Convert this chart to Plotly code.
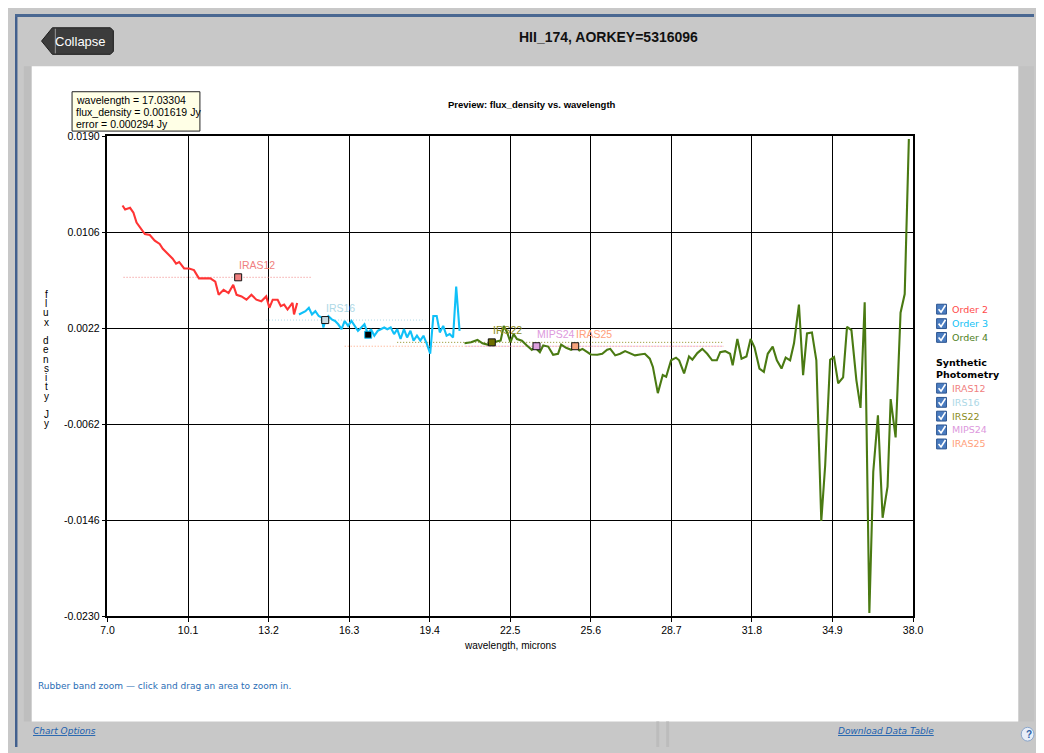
import plotly.graph_objects as go

# ---------------- data ----------------
order2_wl = [7.58, 7.68, 7.87, 8.00, 8.12, 8.31, 8.44, 8.63, 8.82, 9.01, 9.13, 9.32, 9.51, 9.64,
             9.76, 9.95, 10.14, 10.33, 10.52, 10.71, 10.96, 11.15, 11.28, 11.47, 11.66, 11.84,
             11.97, 12.16, 12.35, 12.54, 12.73, 12.92, 13.11, 13.23, 13.36, 13.55, 13.67, 13.80,
             13.93, 14.12, 14.18, 14.30]
order2_flux = [0.01292, 0.01257, 0.01272, 0.01229, 0.01143, 0.01085, 0.01042, 0.01034, 0.00985,
               0.00956, 0.00913, 0.00870, 0.00827, 0.00784, 0.00798, 0.00741, 0.00741, 0.00727,
               0.00655, 0.00655, 0.00655, 0.00626, 0.00511, 0.00554, 0.00526, 0.00598, 0.00511,
               0.00497, 0.00468, 0.00511, 0.00468, 0.00454, 0.00497, 0.00397, 0.00468, 0.00468,
               0.00411, 0.00425, 0.00382, 0.00440, 0.00339, 0.00440]

order3_wl = [14.37, 14.49, 14.62, 14.75, 14.87, 15.00, 15.13, 15.25, 15.31, 15.38,
             15.50, 15.63, 15.76, 15.88, 16.01, 16.13, 16.26, 16.39, 16.51, 16.64,
             16.77, 16.89, 17.03, 17.14, 17.27, 17.40, 17.52, 17.65, 17.77, 17.90,
             18.03, 18.15, 18.28, 18.41, 18.53, 18.66, 18.78, 18.91, 19.04, 19.16,
             19.29, 19.42, 19.54, 19.67, 19.79, 19.92, 20.05, 20.17, 20.30, 20.42, 20.55]
order3_flux = [0.00339, 0.00354, 0.00368, 0.00397, 0.00339, 0.00368, 0.00325, 0.00311, 0.00225, 0.00282,
               0.00325, 0.00296, 0.00282, 0.00253, 0.00210, 0.00282, 0.00239, 0.00282, 0.00239, 0.00196,
               0.00225, 0.00253, 0.00162, 0.00210, 0.00153, 0.00196, 0.00210, 0.00225, 0.00210, 0.00225,
               0.00167, 0.00210, 0.00124, 0.00210, 0.00138, 0.00196, 0.00110, 0.00153, 0.00110, 0.00153,
               0.00081, -0.00005, 0.00325, 0.00325, 0.00182, 0.00239, 0.00153, 0.00167, 0.00138, 0.00583,
               0.00196]

order4_wl = [20.74, 20.99, 21.24, 21.43, 21.62, 21.81, 22.00, 22.13, 22.25, 22.38,
             22.51, 22.63, 22.76, 22.95, 23.14, 23.33, 23.45, 23.64, 23.77, 23.96,
             24.15, 24.34, 24.46, 24.65, 24.84, 25.03, 25.16, 25.28, 25.41, 25.60,
             25.85, 26.04, 26.23, 26.35, 26.54, 26.73, 26.92, 27.11, 27.30, 27.49,
             27.68, 27.87, 27.99, 28.18, 28.37, 28.50, 28.69, 28.88, 29.00, 29.19,
             29.38, 29.51, 29.70, 29.89, 30.08, 30.27, 30.45, 30.58, 30.77, 30.96,
             31.06, 31.24, 31.40, 31.59, 31.75, 31.90, 32.09, 32.26, 32.41, 32.60,
             32.76, 32.94, 33.10, 33.27, 33.42, 33.61, 33.77, 33.92, 34.11, 34.28,
             34.47, 34.62, 34.81, 34.96, 35.12, 35.31, 35.46, 35.63, 35.82, 35.98,
             36.14, 36.32, 36.47, 36.65, 36.83, 37.02, 37.14, 37.33, 37.52, 37.68, 37.84]
order4_flux = [0.00087, 0.00096, 0.00116, 0.00087, 0.00075, 0.00096, 0.00104, 0.00110, 0.00239, 0.00182,
               0.00096, 0.00167, 0.00124, 0.00110, 0.00067, 0.00030, 0.00053, 0.00009, 0.00067, 0.00058,
               -0.00014, -0.00005, 0.00075, 0.00047, 0.00030, 0.00058, 0.00024, 0.00038, 0.00018, -0.00011,
               -0.00014, -0.00005, 0.00030, 0.00038, -0.00019, -0.00005, 0.00018, 0.00001, -0.00019, -0.00011,
               -0.00005, -0.00048, -0.00120, -0.00349, -0.00191, -0.00206, -0.00062, -0.00039, -0.00062, -0.00177,
               -0.00028, -0.00057, 0.00001, 0.00038, -0.00005, -0.00062, -0.00062, 0.00009, 0.00018, -0.00005,
               -0.00105, 0.00124, -0.00048, -0.00028, 0.00124, 0.00052, -0.00134, -0.00163, -0.00005, 0.00058,
               -0.00062, -0.00134, -0.00039, -0.00062, 0.00087, 0.00426, -0.00192, 0.00173, 0.00182, -0.00062,
               -0.01468, -0.00980, -0.00057, -0.00034, -0.00263, -0.00212, 0.00230, 0.00202, -0.00235, -0.00479,
               0.00446, -0.02272, -0.01038, -0.00544, -0.01439, -0.01167, -0.00401, -0.00737, 0.00354, 0.00517,
               0.01874]

orders = ["Order 2", "Order 3", "Order 4"]
order_colors = ["#ff3434", "#10c0f8", "#4a7a12"]
order_text_colors = ["#ff4a4a", "#12bff5", "#4f8024"]

filters = ["IRAS12", "IRS16", "IRS22", "MIPS24", "IRAS25"]
filter_wl = [12.03, 15.38, 21.79, 23.51, 25.00]
filter_flux = [0.00664, 0.00290, 0.00095, 0.00061, 0.00061]
filter_lo = [7.62, 13.10, 18.15, 20.80, 16.13]
filter_hi = [14.87, 19.23, 30.70, 30.70, 30.70]
filter_colors = ["#f08080", "#add8e6", "#8c8c1c", "#dd99dd", "#ffa07a"]
filter_fill = ["#f08080", "#c9dbe2", "#6e6e00", "#dda0dd", "#f6a27c"]

hover_wl = 17.03304
hover_flux = 0.001619
hover_err = 0.000294

x_ticks = [7.0, 10.1, 13.2, 16.3, 19.4, 22.5, 25.6, 28.7, 31.8, 34.9, 38.0]
y_ticks = [-0.0230, -0.0146, -0.0062, 0.0022, 0.0106, 0.0190]

page_title = "HII_174, AORKEY=5316096"
chart_title = "Preview: flux_density vs. wavelength"
x_title = "wavelength, microns"
y_title = "flux density Jy"

# ---------------- helpers ----------------
# The page body keeps its default 8px margin, so the figure starts at (8, 8)
# and runs to the right and bottom edges of the 1044x753 window.
W, H = 1044, 753
OX, OY = 8, 8
FW, FH = W - OX, H - OY
ARIAL = "Liberation Sans, Arial, sans-serif"
TAHOMA = "DejaVu Sans, Verdana, sans-serif"


def cx(x):
    return min(max(x, OX), OX + FW)


def cy(y):
    return min(max(y, OY), OY + FH)


def fx(x):
    return (cx(x) - OX) / FW


def fy(y):
    return 1 - (cy(y) - OY) / FH


def rect(x0, y0, x1, y1, fill, line=None, lw=0, layer="below"):
    return dict(type="rect", xref="paper", yref="paper", x0=fx(x0), x1=fx(x1), y0=fy(y1), y1=fy(y0),
                fillcolor=fill, line=dict(color=line or fill, width=lw), layer=layer)


def pathshape(pts, fill=None, line="#000", lw=1, close=True, layer="above"):
    d = "M " + " L ".join(f"{fx(a):.6f},{fy(b):.6f}" for a, b in pts)
    if close:
        d += " Z"
    s = dict(type="path", xref="paper", yref="paper", path=d, line=dict(color=line, width=lw), layer=layer)
    if fill:
        s["fillcolor"] = fill
    return s


def txt(x, y, s, size, color="#000", family=ARIAL, xanchor="left", yanchor="middle"):
    return dict(x=fx(x), y=fy(y), xref="paper", yref="paper", text=s, showarrow=False,
                font=dict(size=size, color=color, family=family), xanchor=xanchor, yanchor=yanchor,
                borderpad=0)


fig = go.Figure()

# filter band (dotted) lines
for i, name in enumerate(filters):
    fig.add_trace(go.Scatter(x=[filter_lo[i], filter_hi[i]], y=[filter_flux[i], filter_flux[i]],
                             mode="lines", line=dict(color=filter_colors[i], width=1, dash="1px,2px"),
                             hoverinfo="skip", showlegend=False))

# spectral orders
for name, wl, fl, c in zip(orders, [order2_wl, order3_wl, order4_wl],
                           [order2_flux, order3_flux, order4_flux], order_colors):
    fig.add_trace(go.Scatter(x=wl, y=fl, mode="lines", name=name,
                             line=dict(color=c, width=2.1), showlegend=False))

# synthetic photometry markers
for i, name in enumerate(filters):
    fig.add_trace(go.Scatter(x=[filter_wl[i]], y=[filter_flux[i]], mode="markers", name=name,
                             marker=dict(symbol="square", size=7, color=filter_fill[i],
                                         line=dict(color="#111", width=1)), showlegend=False))

# hovered point
fig.add_trace(go.Scatter(x=[hover_wl], y=[hover_flux], mode="markers",
                         marker=dict(symbol="square", size=7, color="#000",
                                     line=dict(color="#10c0f8", width=1)), showlegend=False))

shapes = []
# page frame
shapes.append(rect(8, 8, 10.5, H, "#42608e"))
shapes.append(rect(8, 8, W, 11, "#4a6892"))
shapes.append(rect(17, 61, 25, 727, "#bebebe"))
shapes.append(rect(1028, 61, W, 727, "#c2c2c2"))
shapes.append(rect(25, 61, 1028, 727, "#ffffff"))
shapes.append(rect(660, 727, 663, H, "#bcbcbc"))
shapes.append(rect(670, 727, 673, H, "#bcbcbc"))

# collapse button
shapes.append(pathshape([(35, 35.5), (46, 22), (105, 22), (108, 25), (108, 46), (105, 49), (46, 49)],
                        fill="#3c3c3c", line="#1e1e1e", lw=1))
shapes.append(dict(type="line", xref="paper", yref="paper", x0=fx(49), x1=fx(49), y0=fy(23), y1=fy(48),
                   line=dict(color="#9a9a9a", width=1), layer="above"))

# help icon (partly off the right edge)
shapes.append(dict(type="circle", xref="paper", yref="paper", x0=fx(1031), x1=fx(1045), y0=fy(747), y1=fy(733),
                   fillcolor="#e8eef8", line=dict(color="#8aa6cc", width=1), layer="above"))

# tooltip box
shapes.append(rect(66, 87, 196, 127, "#ffffe6", line="#222", lw=1, layer="above"))

# legend checkboxes
legend_rows = [308, 322.7, 336.7, 388.3, 402.7, 416.7, 430.7, 445]
for ry in legend_rows:
    shapes.append(rect(945, ry - 5, 955, ry + 5, "#4a7cc0", line="#2c5590", lw=1, layer="above"))
    shapes.append(pathshape([(947, ry), (949.5, ry + 3), (954, ry - 4)], line="#ffffff", lw=1.6,
                            close=False))

annotations = []
annotations.append(txt(611, 31, f"<b>{page_title}</b>", 14, "#111", ARIAL, "center"))
annotations.append(txt(75, 35.5, "Collapse", 13, "#ffffff", ARIAL, "center"))
annotations.append(txt(534, 100, f"<b>{chart_title}</b>", 9.5, "#000", ARIAL, "center"))
annotations.append(txt(511, 650, x_title, 10, "#000", ARIAL, "center"))
annotations.append(txt(69, 95.7, f"wavelength = {hover_wl:.5f}", 10.5, "#000", ARIAL))
annotations.append(txt(69, 107.7, f"flux_density = {hover_flux:.6f} Jy", 10.5, "#000", ARIAL))
annotations.append(txt(69, 119.5, f"error = {hover_err:.6f} Jy", 10.5, "#000", ARIAL))
annotations.append(txt(30, 691, "Rubber band zoom \u2014 click and drag an area to zoom in.", 9,
                       "#2a6db5", TAHOMA))
annotations.append(txt(25, 737, "<i><u>Chart Options</u></i>", 9, "#1a5fae", TAHOMA))
annotations.append(txt(844, 737, "<i><u>Download Data Table</u></i>", 9, "#1a5fae", TAHOMA))
annotations.append(txt(1038.5, 740.5, "<b>?</b>", 10, "#2f62a8", ARIAL, "center"))

# vertical stacked y-axis title
yy = 293
for ch in y_title:
    if ch != " ":
        annotations.append(txt(40, yy, ch, 10, "#000", ARIAL, "center"))
    yy += 9.4

# legend texts
for name, c, ry in zip(orders, order_text_colors, legend_rows[:3]):
    annotations.append(txt(960, ry, name, 9.5, c, TAHOMA))
annotations.append(txt(943, 362, "<b>Synthetic</b>", 9.5, "#000", TAHOMA))
annotations.append(txt(943, 374.5, "<b>Photometry</b>", 9.5, "#000", TAHOMA))
for name, c, ry in zip(filters, filter_colors, legend_rows[3:]):
    annotations.append(txt(960, ry, name, 9.5, c, TAHOMA))

# filter labels next to markers
for i, name in enumerate(filters):
    annotations.append(dict(x=filter_wl[i], y=filter_flux[i], xref="x", yref="y", text=name,
                            showarrow=False, xanchor="left", yanchor="middle", yshift=12, xshift=-1,
                            font=dict(size=10.5, color=filter_colors[i], family=ARIAL)))

fig.update_layout(
    width=FW, height=FH, margin=dict(l=0, r=0, t=0, b=0),
    paper_bgcolor="#c8c8c8", plot_bgcolor="#ffffff",
    shapes=shapes, annotations=annotations, showlegend=False,
    hovermode=False,
    xaxis=dict(domain=[fx(102), fx(921)], range=[7.0, 38.0], tickmode="array", tickvals=x_ticks,
               ticktext=[f"{v:.1f}" for v in x_ticks], showgrid=True, gridcolor="#000", gridwidth=1,
               zeroline=False, showline=True, linecolor="#000", linewidth=1.5, mirror=True,
               ticks="outside", ticklen=4, tickcolor="#000",
               tickfont=dict(family=ARIAL, size=10.5, color="#000")),
    yaxis=dict(domain=[fy(620), fy(132)], range=[-0.0230, 0.0190], tickmode="array", tickvals=y_ticks,
               ticktext=[f"{v:.4f}" for v in y_ticks], showgrid=True, gridcolor="#000", gridwidth=1,
               zeroline=False, showline=True, linecolor="#000", linewidth=1.5, mirror=True,
               ticks="outside", ticklen=4, tickcolor="#000",
               tickfont=dict(family=ARIAL, size=10.5, color="#000")),
)

fig.write_html("out.html", config={"displayModeBar": False})
